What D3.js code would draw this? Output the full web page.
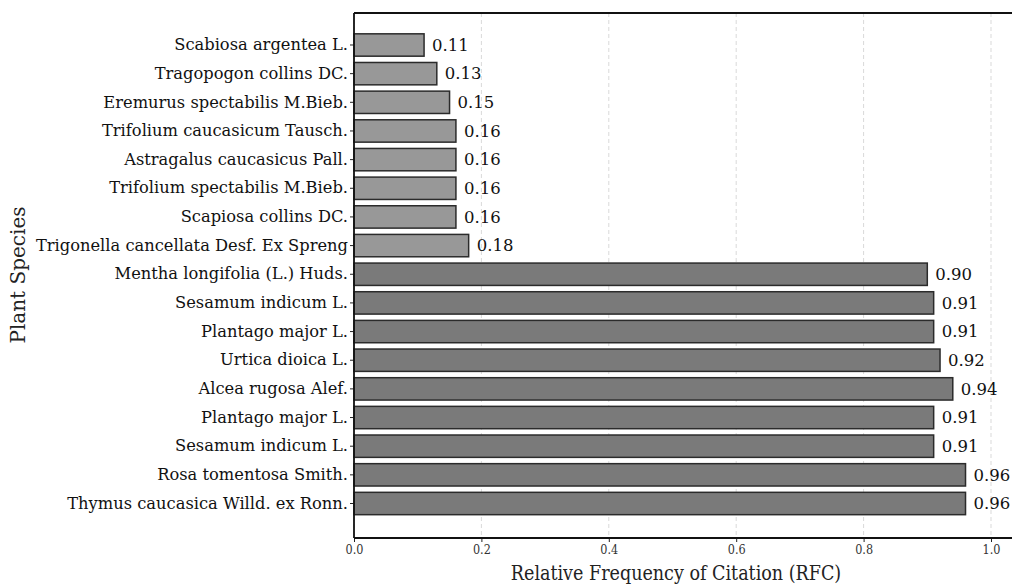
<!DOCTYPE html>
<html>
<head>
<meta charset="utf-8">
<script src="https://cdn.jsdelivr.net/npm/d3@7"></script>
<style>
  body { margin: 0; background: #fff; }
  svg { display: block; }
</style>
</head>
<body>
<div id="chart"></div>
<script>
// species names, top to bottom as drawn
var species = [
  "Scabiosa argentea L.",
  "Tragopogon collins DC.",
  "Eremurus spectabilis M.Bieb.",
  "Trifolium caucasicum Tausch.",
  "Astragalus caucasicus Pall.",
  "Trifolium spectabilis M.Bieb.",
  "Scapiosa collins DC.",
  "Trigonella cancellata Desf. Ex Spreng",
  "Mentha longifolia (L.) Huds.",
  "Sesamum indicum L.",
  "Plantago major L.",
  "Urtica dioica L.",
  "Alcea rugosa Alef.",
  "Plantago major L.",
  "Sesamum indicum L.",
  "Rosa tomentosa Smith.",
  "Thymus caucasica Willd. ex Ronn."
];
var rfc = [0.11, 0.13, 0.15, 0.16, 0.16, 0.16, 0.16, 0.18, 0.90, 0.91, 0.91, 0.92, 0.94, 0.91, 0.91, 0.96, 0.96];
// low = least cited group, high = most cited group
var group = ["low", "low", "low", "low", "low", "low", "low", "low",
  "high", "high", "high", "high", "high", "high", "high", "high", "high"];
var xTicks = [0.0, 0.2, 0.4, 0.6, 0.8, 1.0];

var width = 1012, height = 585;
var margin = { top: 13, right: 0, bottom: 47, left: 354 };
var serif = "'DejaVu Serif', serif";
var serifCond = "'DejaVu Serif Condensed', 'DejaVu Serif', serif";

var svg = d3.select("#chart").append("svg")
  .attr("width", width)
  .attr("height", height);

var plotBottom = height - margin.bottom;

var x = d3.scaleLinear().domain([0, 1.05]).range([margin.left, margin.left + 1.05 * 637]);

var idx = d3.range(species.length);
var y = d3.scaleBand().domain(idx).range([30.67, 517.83])
  .paddingInner(0.22).paddingOuter(0.11);

// grid
svg.append("g").selectAll("line")
  .data(xTicks)
  .join("line")
  .attr("x1", function (d) { return x(d); })
  .attr("x2", function (d) { return x(d); })
  .attr("y1", margin.top)
  .attr("y2", plotBottom)
  .attr("stroke", "#d9d9d9")
  .attr("stroke-width", 1)
  .attr("stroke-dasharray", "4,3");

// bars
svg.append("g").selectAll("rect")
  .data(idx)
  .join("rect")
  .attr("x", x(0))
  .attr("y", function (i) { return y(i); })
  .attr("width", function (i) { return x(rfc[i]) - x(0); })
  .attr("height", y.bandwidth())
  .attr("fill", function (i) { return group[i] == "low" ? "#989898" : "#7a7a7a"; })
  .attr("stroke", "#2b2b2b")
  .attr("stroke-width", 1.5);

// value labels
svg.append("g").selectAll("text")
  .data(idx)
  .join("text")
  .attr("x", function (i) { return x(rfc[i]) + 8; })
  .attr("y", function (i) { return y(i) + y.bandwidth() / 2; })
  .attr("dy", "0.35em")
  .attr("font-family", serif)
  .attr("font-size", "16.5px")
  .attr("fill", "#111")
  .text(function (i) { return rfc[i].toFixed(2); });

// x axis
var xAxis = svg.append("g")
  .attr("transform", "translate(0," + plotBottom + ")")
  .call(d3.axisBottom(x).tickValues(xTicks).tickFormat(d3.format(".1f")).tickSize(4).tickSizeOuter(0));
xAxis.select(".domain").remove();
xAxis.selectAll("line").attr("stroke", "#222");
xAxis.selectAll("text")
  .attr("font-family", serifCond)
  .attr("font-size", "12.5px")
  .attr("fill", "#333");

// y axis
var yAxis = svg.append("g")
  .attr("transform", "translate(" + margin.left + ",0)")
  .call(d3.axisLeft(y).tickFormat(function (i) { return species[i]; }).tickSize(4).tickPadding(2));
yAxis.select(".domain").remove();
yAxis.selectAll("line").attr("stroke", "#222");
yAxis.selectAll("text")
  .attr("font-family", serif)
  .attr("font-size", "16.3px")
  .attr("fill", "#111");

// spines
svg.append("line")
  .attr("x1", margin.left).attr("x2", margin.left)
  .attr("y1", margin.top).attr("y2", plotBottom)
  .attr("stroke", "#111").attr("stroke-width", 1.8);
svg.append("line")
  .attr("x1", margin.left).attr("x2", width)
  .attr("y1", margin.top).attr("y2", margin.top)
  .attr("stroke", "#111").attr("stroke-width", 1.8);
svg.append("line")
  .attr("x1", margin.left).attr("x2", width)
  .attr("y1", plotBottom).attr("y2", plotBottom)
  .attr("stroke", "#111").attr("stroke-width", 1.8);

// axis titles
svg.append("text")
  .attr("x", 676)
  .attr("y", 580)
  .attr("text-anchor", "middle")
  .attr("font-family", serifCond)
  .attr("font-size", "19.5px")
  .attr("fill", "#222")
  .text("Relative Frequency of Citation (RFC)");

svg.append("text")
  .attr("transform", "translate(25,275) rotate(-90)")
  .attr("text-anchor", "middle")
  .attr("font-family", serif)
  .attr("font-size", "20px")
  .attr("fill", "#222")
  .text("Plant Species");
</script>
</body>
</html>
